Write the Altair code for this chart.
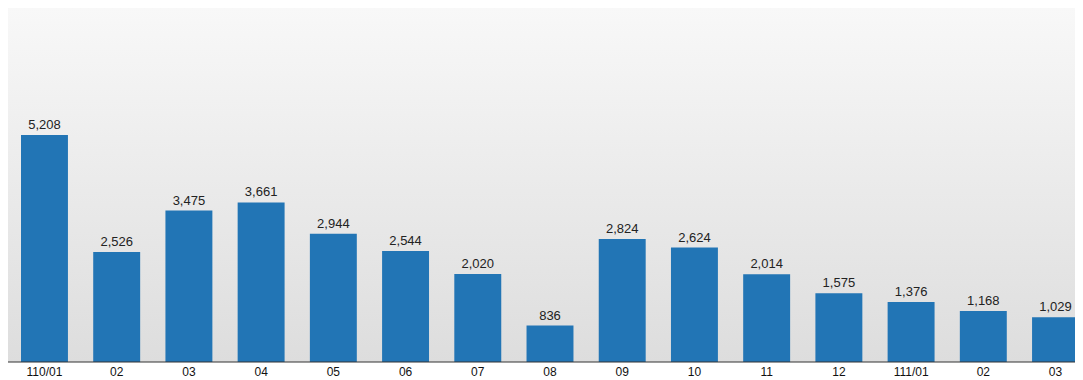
import json
import altair as alt
import pandas as pd

months = ["110/01", "110/02", "110/03", "110/04", "110/05", "110/06", "110/07",
          "110/08", "110/09", "110/10", "110/11", "110/12", "111/01", "111/02", "111/03"]
tick_labels = ["110/01", "02", "03", "04", "05", "06", "07",
               "08", "09", "10", "11", "12", "111/01", "02", "03"]
values = [5208, 2526, 3475, 3661, 2944, 2544, 2020, 836, 2824, 2624, 2014, 1575, 1376, 1168, 1029]

df = pd.DataFrame({"month": months, "value": values})

label_expr = f"{json.dumps(tick_labels)}[indexof({json.dumps(months)}, datum.value)]"

FONT = "Liberation Sans"
W, H = 1067, 354

bg = alt.Chart(pd.DataFrame({"a": [0]})).mark_rect(
    color=alt.Gradient(
        gradient="linear",
        stops=[alt.GradientStop(color="#f8f8f8", offset=0),
               alt.GradientStop(color="#dddddd", offset=1)],
        x1=0, x2=0, y1=0, y2=1,
    )
).encode(x=alt.value(0), x2=alt.value(W), y=alt.value(0), y2=alt.value(H))

xenc = alt.X(
    "month:N", sort=months, title=None,
    scale=alt.Scale(range=[13, 1071], paddingInner=0.35, paddingOuter=0),
    axis=alt.Axis(labelAngle=0, labelExpr=label_expr, ticks=False, domain=False,
                  labelFont=FONT, labelFontSize=12, labelColor="#111",
                  labelPadding=4, grid=False),
)
yenc = alt.Y("value:Q", scale=alt.Scale(domain=[0, 8120], nice=False), axis=None)

bars = alt.Chart(df).mark_bar(color="#2275b5", clip=False).encode(x=xenc, y=yenc)
text = alt.Chart(df).mark_text(
    baseline="bottom", dy=-3, font=FONT, fontSize=13, color="#222"
).encode(x=xenc, y=yenc, text=alt.Text("value:Q", format=","))

base = alt.Chart(pd.DataFrame({"a": [0]})).mark_rule(color="#333", strokeWidth=1).encode(
    x=alt.value(0), x2=alt.value(W), y=alt.value(H)
)

chart = alt.layer(bg, bars, text, base).properties(
    width=W, height=H,
    autosize=alt.AutoSizeParams(type="none"),
    padding={"left": 0, "top": 0, "right": 0, "bottom": 16},
).configure_view(stroke=None)

chart.save("out.html", embed_options={"renderer": "svg", "actions": False})
